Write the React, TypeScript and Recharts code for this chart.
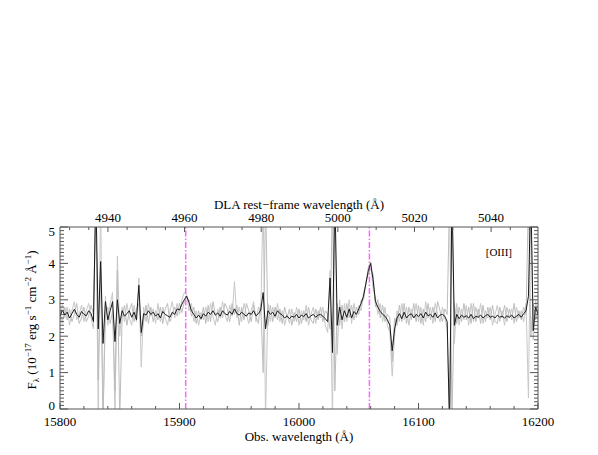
import { LineChart, Line, XAxis, YAxis, ReferenceLine } from 'recharts';

// observed wavelength grid (Å)
const wavelengths = [
  15800, 15802, 15804, 15806, 15808, 15810, 15812, 15814, 15816, 15818,
  15820, 15822, 15824, 15826, 15828, 15830, 15832, 15834, 15836, 15838,
  15840, 15842, 15844, 15846, 15848, 15850, 15852, 15854, 15856, 15858,
  15860, 15862, 15864, 15866, 15868, 15870, 15872, 15874, 15876, 15878,
  15880, 15882, 15884, 15886, 15888, 15890, 15892, 15894, 15896, 15898,
  15900, 15902, 15904, 15906, 15908, 15910, 15912, 15914, 15916, 15918,
  15920, 15922, 15924, 15926, 15928, 15930, 15932, 15934, 15936, 15938,
  15940, 15942, 15944, 15946, 15948, 15950, 15952, 15954, 15956, 15958,
  15960, 15962, 15964, 15966, 15968, 15970, 15972, 15974, 15976, 15978,
  15980, 15982, 15984, 15986, 15988, 15990, 15992, 15994, 15996, 15998,
  16000, 16002, 16004, 16006, 16008, 16010, 16012, 16014, 16016, 16018,
  16020, 16022, 16024, 16026, 16028, 16030, 16032, 16034, 16036, 16038,
  16040, 16042, 16044, 16046, 16048, 16050, 16052, 16054, 16056, 16058,
  16060, 16062, 16064, 16066, 16068, 16070, 16072, 16074, 16076, 16078,
  16080, 16082, 16084, 16086, 16088, 16090, 16092, 16094, 16096, 16098,
  16100, 16102, 16104, 16106, 16108, 16110, 16112, 16114, 16116, 16118,
  16120, 16122, 16124, 16126, 16128, 16130, 16132, 16134, 16136, 16138,
  16140, 16142, 16144, 16146, 16148, 16150, 16152, 16154, 16156, 16158,
  16160, 16162, 16164, 16166, 16168, 16170, 16172, 16174, 16176, 16178,
  16180, 16182, 16184, 16186, 16188, 16190, 16192, 16194, 16196, 16198,
  16200,
];

// combined spectrum (black)
const fluxMean = [
  2.55, 2.72, 2.58, 2.66, 2.5, 2.62, 2.74, 2.6, 2.52, 2.68,
  2.6, 2.56, 2.7, 2.62, 2.4, 6.0, 2.2, 4.05, 1.8, 2.95,
  2.45, 2.7, 2.95, 1.85, 3.0, 2.35, 2.7, 2.55, 2.62, 2.7,
  2.52, 2.66, 2.45, 3.4, 2.1, 2.62, 2.58, 2.7, 2.6, 2.66,
  2.55, 2.62, 2.5, 2.68, 2.6, 2.56, 2.52, 2.66, 2.6, 2.75,
  2.72, 2.88, 3.0, 3.1, 2.92, 2.7, 2.6, 2.5, 2.58, 2.48,
  2.62, 2.55, 2.66, 2.6, 2.7, 2.58, 2.64, 2.55, 2.7, 2.62,
  2.58, 2.68, 2.6, 2.75, 2.62, 2.58, 2.66, 2.6, 2.55, 2.64,
  2.6, 2.7, 2.56, 2.62, 2.72, 3.2, 2.2, 2.7, 2.6, 2.66,
  2.55, 2.7, 2.62, 2.58, 2.5, 2.56, 2.48, 2.55, 2.52, 2.6,
  2.5, 2.58, 2.54, 2.62, 2.5, 2.56, 2.6, 2.52, 2.58, 2.6,
  2.55, 2.48, 2.4, 3.6, 1.55, 6.0, 2.3, 2.8, 2.45, 2.7,
  2.52, 2.75, 2.5, 2.68, 2.6, 2.75, 2.9, 3.1, 3.45, 3.8,
  4.0, 3.55, 2.95, 2.8, 2.68, 2.6, 2.55, 2.45, 2.3, 1.6,
  2.2, 2.5, 2.62, 2.48, 2.66, 2.5, 2.58, 2.62, 2.5, 2.6,
  2.54, 2.62, 2.5, 2.66, 2.56, 2.6, 2.52, 2.64, 2.5, 2.58,
  2.6, 2.55, 2.4, -0.5, 6.0, 2.3, 2.6, 2.48, 2.58, 2.52,
  2.56, 2.5, 2.6, 2.48, 2.55, 2.52, 2.58, 2.5, 2.56, 2.6,
  2.52, 2.55, 2.5, 2.58, 2.52, 2.55, 2.5, 2.56, 2.52, 2.58,
  2.5, 2.55, 2.6, 2.52, 2.62, 2.7, 3.1, 6.0, 2.15, 2.8,
  2.6,
];

// individual exposures (grey)
const fluxA = [
  2.4, 2.9, 2.5, 2.8, 2.3, 2.7, 2.95, 2.45, 2.6, 2.85,
  2.4, 2.7, 2.9, 2.5, 2.2, 5.8, -0.3, 5.8, -0.3, 3.1,
  2.3, 2.9, 3.2, -0.3, 4.2, 2.0, 2.8, 2.4, 2.9, 2.5,
  2.3, 2.85, 2.4, 3.6, 1.15, 2.8, 2.4, 2.9, 2.55, 2.75,
  2.35, 2.9, 2.4, 2.8, 2.5, 2.3, 2.7, 2.95, 2.5, 2.9,
  2.6, 3.0, 3.2, 3.15, 2.7, 2.9, 2.4, 2.7, 2.3, 2.65,
  2.45, 2.8, 2.4, 2.9, 2.55, 2.3, 2.75, 2.5, 2.95, 2.6,
  2.4, 2.85, 2.55, 3.5, 2.5, 2.8, 2.4, 2.9, 2.6, 2.35,
  2.7, 2.95, 2.4, 2.8, 2.6, 5.8, -0.3, 2.9, 2.4, 2.8,
  2.5, 2.9, 2.4, 2.7, 2.3, 2.6, 2.35, 2.75, 2.4, 2.8,
  2.3, 2.7, 2.45, 2.85, 2.3, 2.6, 2.8, 2.35, 2.7, 2.5,
  2.8, 2.3, 2.1, 3.8, -0.3, 5.8, 1.5, 3.0, 2.2, 2.9,
  2.4, 3.0, 2.35, 2.9, 2.5, 2.85, 2.7, 3.2, 3.4, 3.9,
  4.05, 3.3, 3.05, 2.6, 2.9, 2.4, 2.8, 2.3, 2.1, 0.9,
  2.0, 2.7, 2.4, 2.9, 2.45, 2.8, 2.3, 2.75, 2.5, 2.9,
  2.4, 2.8, 2.3, 2.95, 2.5, 2.8, 2.35, 2.9, 2.6, 2.4,
  2.8, 2.5, 2.2, -0.3, 5.8, 1.8, 2.9, 2.3, 2.75, 2.45,
  2.85, 2.3, 2.9, 2.4, 2.8, 2.5, 2.9, 2.35, 2.7, 2.5,
  2.8, 2.3, 2.6, 2.85, 2.4, 2.7, 2.3, 2.8, 2.5, 2.75,
  2.35, 2.8, 2.5, 2.7, 2.4, 2.9, 0.3, 5.8, 1.9, 3.0,
  2.5,
];

const fluxB = [
  2.7, 2.35, 2.8, 2.45, 2.75, 2.4, 2.6, 2.9, 2.35, 2.5,
  2.8, 2.4, 2.55, 2.85, 2.6, 5.8, 0.8, 3.8, -0.3, 2.6,
  2.8, 2.35, 2.7, 0.5, 3.8, -0.3, 2.5, 2.85, 2.3, 2.7,
  2.9, 2.4, 2.75, 2.9, 2.0, 2.4, 2.85, 2.35, 2.8, 2.4,
  2.7, 2.45, 2.8, 2.35, 2.75, 2.9, 2.4, 2.6, 2.8, 2.55,
  2.9, 2.65, 2.95, 3.05, 3.0, 2.55, 2.8, 2.35, 2.7, 2.45,
  2.8, 2.35, 2.85, 2.4, 2.95, 2.6, 2.4, 2.8, 2.5, 2.9,
  2.75, 2.4, 2.9, 2.6, 2.85, 2.3, 2.8, 2.45, 2.9, 2.7,
  2.4, 2.85, 2.55, 2.35, 2.9, 1.0, 5.8, 2.3, 2.85, 2.4,
  2.8, 2.45, 2.75, 2.35, 2.8, 2.5, 2.75, 2.3, 2.65, 2.4,
  2.75, 2.35, 2.7, 2.4, 2.8, 2.45, 2.35, 2.75, 2.45, 2.8,
  2.4, 2.7, 2.6, 2.2, 5.8, 0.5, 2.9, 2.3, 2.85, 2.4,
  2.9, 2.5, 2.85, 2.45, 2.8, 2.6, 3.0, 3.0, 3.5, 3.7,
  3.85, 3.7, 2.8, 3.0, 2.5, 2.85, 2.4, 2.6, 2.5, 1.3,
  2.5, 2.3, 2.85, 2.4, 2.9, 2.35, 2.8, 2.45, 2.9, 2.4,
  2.85, 2.35, 2.75, 2.4, 2.9, 2.45, 2.8, 2.4, 2.95, 2.7,
  2.4, 2.75, 2.6, 5.8, -0.3, 2.9, 2.35, 2.8, 2.4, 2.9,
  2.45, 2.8, 2.35, 2.9, 2.4, 2.75, 2.35, 2.85, 2.4, 2.8,
  2.45, 2.85, 2.4, 2.35, 2.8, 2.5, 2.85, 2.4, 2.75, 2.45,
  2.9, 2.4, 2.7, 2.45, 2.8, 2.6, 5.8, 2.0, 2.9, 2.45,
  2.7,
];

const obsTicks = [
  15800, 15820, 15840, 15860, 15880, 15900, 15920, 15940, 15960, 15980, 16000,
  16020, 16040, 16060, 16080, 16100, 16120, 16140, 16160, 16180, 16200,
];
const restTicks = [
  4930, 4935, 4940, 4945, 4950, 4955, 4960, 4965, 4970, 4975, 4980, 4985, 4990,
  4995, 5000, 5005, 5010, 5015, 5020, 5025, 5030, 5035, 5040, 5045, 5050,
];
const fluxTicks = [
  0, 0.1, 0.2, 0.3, 0.4, 0.5, 0.6, 0.7, 0.8, 0.9, 1, 1.1, 1.2, 1.3, 1.4, 1.5,
  1.6, 1.7, 1.8, 1.9, 2, 2.1, 2.2, 2.3, 2.4, 2.5, 2.6, 2.7, 2.8, 2.9, 3, 3.1,
  3.2, 3.3, 3.4, 3.5, 3.6, 3.7, 3.8, 3.9, 4, 4.1, 4.2, 4.3, 4.4, 4.5, 4.6, 4.7,
  4.8, 4.9, 5,
];

const zPlusOne = 3.2065;
const oiiiRest = [4960.295, 5008.24];
const obsDomain = [15800, 16200];

const data = wavelengths.map((w, i) => ({
  w,
  mean: fluxMean[i],
  a: fluxA[i],
  b: fluxB[i],
}));

// the top axis runs in observed units; its ticks sit at redshifted rest wavelengths
const topTicks = restTicks.map((r) => r * zPlusOne);

const FONT = '"Liberation Serif", "Times New Roman", serif';
const AXIS = '#555';

const isWhole = (v: number) => Math.abs(v - Math.round(v)) < 1e-6;

const BottomTick = (p: any) => {
  const v = p.payload.value;
  const major = v % 100 === 0;
  return (
    <g>
      <line x1={p.x} x2={p.x} y1={p.y} y2={p.y - (major ? 6 : 3)} stroke={AXIS} />
      {major && (
        <text x={p.x} y={p.y + 17} textAnchor="middle" fontSize={13} fontFamily={FONT} fill="#000">
          {v}
        </text>
      )}
    </g>
  );
};

const TopTick = (p: any) => {
  const rest = Math.round(p.payload.value / zPlusOne);
  const major = rest % 20 === 0;
  return (
    <g>
      <line x1={p.x} x2={p.x} y1={p.y} y2={p.y + (major ? 5 : 3)} stroke={AXIS} />
      {major && (
        <text x={p.x} y={p.y - 5} textAnchor="middle" fontSize={13} fontFamily={FONT} fill="#000">
          {rest}
        </text>
      )}
    </g>
  );
};

const LeftTick = (p: any) => {
  const v = p.payload.value;
  const major = isWhole(v);
  const shift = v === 0 ? -4 : v === 5 ? 4 : 0;
  return (
    <g>
      <line x1={p.x} x2={p.x + (major ? 8 : 4)} y1={p.y} y2={p.y} stroke={AXIS} />
      {major && (
        <text x={p.x - 5} y={p.y + 4.5 + shift} textAnchor="end" fontSize={13} fontFamily={FONT} fill="#000">
          {Math.round(v)}
        </text>
      )}
    </g>
  );
};

const RightTick = (p: any) => {
  const major = isWhole(p.payload.value);
  return <line x1={p.x} x2={p.x - (major ? 8 : 4)} y1={p.y} y2={p.y} stroke={AXIS} />;
};

const YTitle = () => (
  <text
    x={36}
    y={320}
    transform="rotate(-90 36 320)"
    textAnchor="middle"
    fontSize={13}
    fontFamily={FONT}
    fill="#000"
  >
    F<tspan fontSize={9} dy={3}>λ</tspan>
    <tspan dy={-3}> (10</tspan>
    <tspan fontSize={9} dy={-5}>−17</tspan>
    <tspan dy={5}> erg s</tspan>
    <tspan fontSize={9} dy={-5}>−1</tspan>
    <tspan dy={5}> cm</tspan>
    <tspan fontSize={9} dy={-5}>−2</tspan>
    <tspan dy={5}> Å</tspan>
    <tspan fontSize={9} dy={-5}>−1</tspan>
    <tspan dy={5}>)</tspan>
  </text>
);

const TopTitle = () => (
  <text x={299} y={208.5} textAnchor="middle" fontSize={13} fontFamily={FONT} fill="#000">
    DLA rest−frame wavelength (Å)
  </text>
);

const BottomTitle = () => (
  <text x={299} y={441} textAnchor="middle" fontSize={13} fontFamily={FONT} fill="#000">
    Obs. wavelength (Å)
  </text>
);

const LineTag = () => (
  <text x={512} y={256} textAnchor="end" fontSize={11} fontFamily={FONT} fill="#000">
    [OIII]
  </text>
);

export default function App() {
  return (
    <div style={{ position: 'absolute', left: 0, top: 0, background: '#fff' }}>
      <LineChart
        width={598}
        height={455}
        data={data}
        margin={{ top: 207, right: 50, bottom: 26, left: 40 }}
      >
        <XAxis
          xAxisId="obs"
          dataKey="w"
          type="number"
          domain={obsDomain}
          allowDataOverflow
          ticks={obsTicks}
          interval={0}
          orientation="bottom"
          height={20}
          tickSize={0}
          tickMargin={0}
          tick={BottomTick}
          tickLine={false}
          axisLine={{ stroke: AXIS }}
          label={{ content: BottomTitle }}
        />
        <XAxis
          xAxisId="top"
          dataKey="w"
          type="number"
          domain={obsDomain}
          allowDataOverflow
          ticks={topTicks}
          interval={0}
          orientation="top"
          height={20}
          tickSize={0}
          tickMargin={0}
          tick={TopTick}
          tickLine={false}
          axisLine={{ stroke: AXIS }}
          label={{ content: TopTitle }}
        />
        <YAxis
          yAxisId="flux"
          type="number"
          domain={[0, 5]}
          allowDataOverflow
          ticks={fluxTicks}
          interval={0}
          orientation="left"
          width={20}
          tickSize={0}
          tickMargin={0}
          tick={LeftTick}
          tickLine={false}
          axisLine={{ stroke: AXIS }}
          label={{ content: YTitle }}
        />
        <YAxis
          yAxisId="right"
          type="number"
          domain={[0, 5]}
          allowDataOverflow
          ticks={fluxTicks}
          interval={0}
          orientation="right"
          width={10}
          tickSize={0}
          tickMargin={0}
          tick={RightTick}
          tickLine={false}
          axisLine={{ stroke: AXIS }}
          label={{ content: LineTag }}
        />
        <Line
          xAxisId="top"
          yAxisId="flux"
          dataKey="a"
          stroke="#c8c8c8"
          strokeWidth={1}
          dot={false}
          isAnimationActive={false}
        />
        <Line
          xAxisId="obs"
          yAxisId="flux"
          dataKey="b"
          stroke="#bdbdbd"
          strokeWidth={1}
          dot={false}
          isAnimationActive={false}
        />
        {oiiiRest.map((r) => (
          <ReferenceLine
            key={r}
            xAxisId="obs"
            yAxisId="flux"
            x={r * zPlusOne}
            stroke="#ff66ff"
            strokeOpacity={1}
            strokeWidth={1.5}
            strokeDasharray="6 2 1.5 2"
          />
        ))}
        <Line
          xAxisId="obs"
          yAxisId="flux"
          dataKey="mean"
          stroke="#1a1a1a"
          strokeWidth={1}
          dot={false}
          isAnimationActive={false}
        />
      </LineChart>
    </div>
  );
}
